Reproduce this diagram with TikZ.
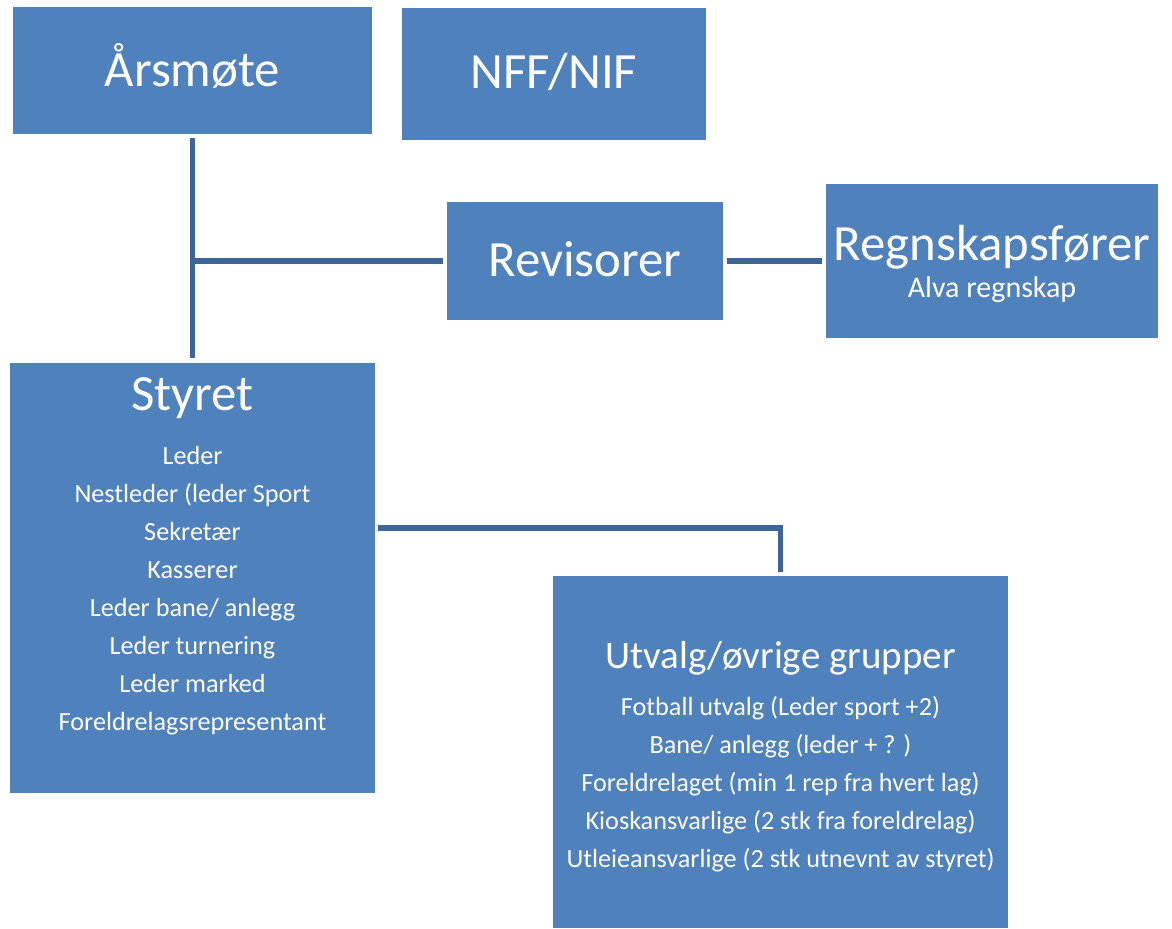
\documentclass[tikz,border=0pt]{standalone}
\usepackage{fontspec}
\setmainfont{Carlito}
\usetikzlibrary{calc}

\definecolor{boxblue}{HTML}{4F81BD}
\definecolor{lineblue}{HTML}{3E6597}

\tikzset{
  orgbox/.style={fill=boxblue, draw=none, inner sep=0pt},
  orgline/.style={lineblue, line width=2.6pt},
  boxtitle/.style={text=white, inner sep=0pt, anchor=base, font=\fontsize{25.4}{30}\selectfont},
  boxitem/.style={text=white, inner sep=0pt, anchor=base, font=\fontsize{13.1}{16}\selectfont},
}

\begin{document}
\begin{tikzpicture}[x=0.5pt,y=-0.5pt]

\useasboundingbox (0,0) rectangle (1172,928);

% boxes
\node[orgbox, minimum width=179.5pt, minimum height=63.5pt] (aarsmote) at (192.5,70.5) {};
\node[orgbox, minimum width=152pt, minimum height=66pt] (nff) at (554,74) {};
\node[orgbox, minimum width=138pt, minimum height=59pt] (revisorer) at (585,261) {};
\node[orgbox, minimum width=166pt, minimum height=77pt] (regnskap) at (992,261) {};
\node[orgbox, minimum width=182.5pt, minimum height=215pt] (styret) at (192.5,578) {};
\node[orgbox, minimum width=227.5pt, minimum height=176pt] (utvalg) at (780.5,752) {};

% titles
\node[boxtitle] (aarsmotetext) at (192.5,86) {Årsmøte};
\node[boxtitle] (nfftext) at (554,88) {NFF/NIF};
\node[boxtitle] (revisorertext) at (585,276) {Revisorer};
\node[boxtitle] (regnskaptext) at (992,260) {Regnskapsfører};
\node[boxitem, font=\fontsize{15}{18}\selectfont] (alva) at (992,297) {Alva regnskap};
\node[boxtitle] (styrettext) at (192.5,410) {Styret};
\node[boxtitle, font=\fontsize{19.5}{24}\selectfont] (utvalgtext) at (780.5,668) {Utvalg/øvrige grupper};

% members of the board
\foreach \name [count=\i] in {Leder, Nestleder (leder Sport, Sekretær, Kasserer,
    Leder bane/ anlegg, Leder turnering, Leder marked, Foreldrelagsrepresentant}
  \node[boxitem] (styret\i) at (192.5,{426+38*\i}) {\name};

% committees
\node[boxitem] (utvalg1) at (780.5,715) {Fotball utvalg (Leder sport +2)};
\node[boxitem] (utvalg2) at (780.5,753) {Bane/ anlegg (leder + ? )};
\node[boxitem] (utvalg3) at (780.5,791) {Foreldrelaget (min 1 rep fra hvert lag)};
\node[boxitem] (utvalg4) at (780.5,829) {Kioskansvarlige (2 stk fra foreldrelag)};
\node[boxitem] (utvalg5) at (780.5,867) {Utleieansvarlige (2 stk utnevnt av styret)};

% connectors
\coordinate (junction) at (aarsmote.south |- revisorer.west);
\coordinate (styretport) at ($(styret.east)+(0,25pt)$);
\draw[orgline, shorten <=2pt, shorten >=2.5pt] (aarsmote) -- (styret);
\draw[orgline, shorten >=2pt] (junction) -- (revisorer.west);
\draw[orgline, shorten <=2pt, shorten >=2pt] (revisorer) -- (regnskap);
\draw[orgline, shorten <=1.5pt, shorten >=2pt] (styretport) -| (utvalg.north);

\end{tikzpicture}
\end{document}
